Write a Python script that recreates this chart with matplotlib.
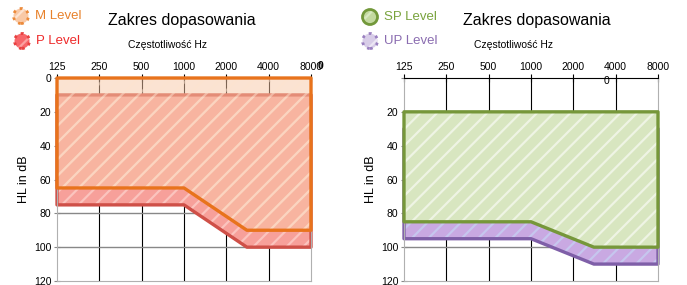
import matplotlib.pyplot as plt
from matplotlib.patches import Polygon, Circle

plt.rcParams["font.family"] = ["Liberation Sans", "DejaVu Sans"]
plt.rcParams["hatch.linewidth"] = 1.6

# frequency ticks (Hz) and hearing level ticks (dB)
FREQS = [125, 250, 500, 1000, 2000, 4000, 8000]
HL_TICKS = [0, 20, 40, 60, 80, 100, 120]

# fitting ranges: corners along the frequency axis, top and bottom levels
EDGE_FREQS = [125, 1000, 2800, 8000]
M_TOP = 0
M_BOTTOM = [65, 65, 90, 90]
P_TOP = 10
P_BOTTOM = [75, 75, 100, 100]
SP_TOP = 20
SP_BOTTOM = [85, 85, 100, 100]
UP_TOP = 30
UP_BOTTOM = [95, 95, 110, 110]

TITLE = "Zakres dopasowania"
XLABEL = "Częstotliwość Hz"
YLABEL = "HL in dB"

W, H = 687, 285


def region(top, bottom):
    pts = [(EDGE_FREQS[0], top), (EDGE_FREQS[-1], top)]
    pts += [(f, b) for f, b in zip(EDGE_FREQS[::-1], bottom[::-1])]
    return pts


def draw_region(ax, top, bottom, face, hatch_col, edge, alpha=1.0, z=2):
    pts = region(top, bottom)
    ax.add_patch(Polygon(pts, closed=True, facecolor=face, edgecolor=hatch_col,
                         linewidth=0, hatch="//", alpha=alpha, zorder=z,
                         clip_on=False))
    ax.add_patch(Polygon(pts, closed=True, facecolor="none", edgecolor=edge,
                         linewidth=2.4, joinstyle="round", zorder=z + 0.5,
                         clip_on=False))


def setup_axes(fig, left_px, show_zero=True):
    ax = fig.add_axes([left_px / W, 4 / H, 254 / W, 203 / H])
    ax.set_xscale("log", base=2)
    ax.set_xlim(125, 8000)
    ax.set_ylim(120, 0)
    ax.xaxis.tick_top()
    ax.set_xticks(FREQS)
    ax.set_xticklabels([str(f) for f in FREQS], fontsize=7.5)
    ax.minorticks_off()
    ax.set_yticks(HL_TICKS)
    labels = [str(v) for v in HL_TICKS]
    if not show_zero:
        labels[0] = ""
    ax.set_yticklabels(labels, fontsize=7.5)
    ax.tick_params(axis="x", direction="inout", length=6, width=0.8, pad=1)
    ax.tick_params(axis="y", direction="inout", length=4, width=0.8,
                   color="#888888", pad=2)
    for f in FREQS[1:-1]:
        ax.axvline(f, color="black", linewidth=0.8, zorder=1)
    for v in HL_TICKS[1:-1]:
        ax.axhline(v, color="#888888", linewidth=1.0, zorder=1)
    ax.spines["top"].set_color("black")
    for s in ("left", "right", "bottom"):
        ax.spines[s].set_color("#b0b0b0")
    ax.set_ylabel(YLABEL, fontsize=9, labelpad=3)
    return ax


def legend_entry(fig, x, y, label, face, hatch_col, edge, text_color, ls):
    fig.add_artist(Circle((x / 100, (H - y) / 100), 0.075, transform=fig.dpi_scale_trans,
                          facecolor=face, edgecolor=hatch_col, hatch="//", linewidth=0))
    fig.add_artist(Circle((x / 100, (H - y) / 100), 0.075, transform=fig.dpi_scale_trans,
                          facecolor="none", edgecolor=edge, linewidth=2, linestyle=ls))
    fig.text((x + 14) / W, 1 - y / H, label, color=text_color, fontsize=9.5,
             va="center", ha="left")


fig = plt.figure(figsize=(W / 100, H / 100), dpi=100)

# left chart: M / P levels
ax1 = setup_axes(fig, 57)
draw_region(ax1, P_TOP, P_BOTTOM, "#f7a09a", "#fbc4be", "#cf5048", z=2)
draw_region(ax1, M_TOP, M_BOTTOM, "#f9c9a6", "#fde3d0", "#e8731c", alpha=0.5, z=3)
fig.text(320 / W, 1 - 66 / H, "0", fontsize=7.5, ha="center", va="center",
         fontweight="bold")

legend_entry(fig, 21, 16, "M Level", "#f9c9a6", "#fde3d0", "#ec8a3a", "#e8812a", ":")
legend_entry(fig, 22, 41, "P Level", "#f7666a", "#fba0a0", "#e84040", "#ee2a2a", ":")
fig.text(108 / W, 1 - 20 / H, TITLE, fontsize=11.5, va="center", ha="left")
fig.text(128 / W, 1 - 45 / H, XLABEL, fontsize=7.5, va="center", ha="left")

# right chart: SP / UP levels
ax2 = setup_axes(fig, 404, show_zero=False)
draw_region(ax2, UP_TOP, UP_BOTTOM, "#c9a9e2", "#c6c6ee", "#7f5fa8", z=2)
draw_region(ax2, SP_TOP, SP_BOTTOM, "#d8e6c0", "#eef4e4", "#76973a", z=3)
fig.text(607 / W, 1 - 81 / H, "0", fontsize=7.5, ha="center", va="center")

legend_entry(fig, 370, 17, "SP Level", "#c3d9a0", "#d8e8c0", "#72983a", "#79a33d", "-")
legend_entry(fig, 370, 41, "UP Level", "#d8cde8", "#ece6f4", "#9a80c0", "#8a6cb0", ":")
fig.text(463 / W, 1 - 20 / H, TITLE, fontsize=11.5, va="center", ha="left")
fig.text(474 / W, 1 - 45 / H, XLABEL, fontsize=7.5, va="center", ha="left")

fig.savefig("out.png", dpi=100)
